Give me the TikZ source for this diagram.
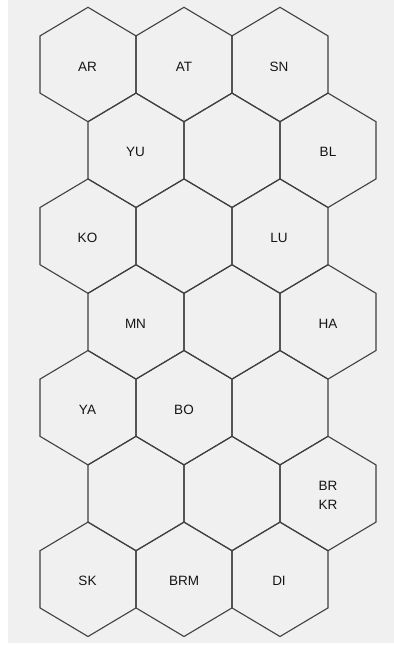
\documentclass[tikz,border=0pt]{standalone}
\usepackage{fontspec}
\setmainfont{Liberation Sans}
\definecolor{panel}{HTML}{F0F0F0}
\definecolor{edge}{HTML}{404040}
\definecolor{ink}{HTML}{151515}
\begin{document}
\begin{tikzpicture}[x=1pt,y=-1pt,
  hexline/.style={draw=edge,line width=1.1pt,line join=miter},
  lbl/.style={text=ink,font=\fontsize{13.5}{19}\selectfont,align=center,inner sep=0pt},
  hexcell/.pic={\path[hexline] (0,-57.2)--(48,-28.6)--(48,28.6)--(0,57.2)--(-48,28.6)--(-48,-28.6)--cycle;}]
\useasboundingbox (0,0) rectangle (394,646);
\fill[white] (0,0) rectangle (394,646);
\fill[panel] (8,0) rectangle (394,643);
% hexagons: row centres y = 64.5 + 85.8*k
\foreach \x/\y in {88/64.5,184/64.5,280/64.5,
                   136/150.3,232/150.3,328/150.3,
                   88/236.1,184/236.1,280/236.1,
                   136/321.9,232/321.9,328/321.9,
                   88/407.7,184/407.7,280/407.7,
                   136/493.5,232/493.5,328/493.5,
                   88/579.3,184/579.3,280/579.3}
  \pic at (\x,\y) {hexcell};
% labels
\node[lbl] (ar) at (87.5,66.5) {AR};
\node[lbl] (at) at (184,66.5) {AT};
\node[lbl] (sn) at (279,66.5) {SN};
\node[lbl] (yu) at (135.5,152.3) {YU};
\node[lbl] (bl) at (328,152.3) {BL};
\node[lbl] (ko) at (87.5,238.1) {KO};
\node[lbl] (lu) at (279,238.1) {LU};
\node[lbl] (mn) at (135.5,323.9) {MN};
\node[lbl] (ha) at (328,323.9) {HA};
\node[lbl] (ya) at (87.5,409.7) {YA};
\node[lbl] (bo) at (184,409.7) {BO};
\node[lbl] (brkr) at (328,495.5) {BR\\KR};
\node[lbl] (sk) at (87.5,581.3) {SK};
\node[lbl] (brm) at (184,581.3) {BRM};
\node[lbl] (di) at (279,581.3) {DI};
\end{tikzpicture}
\end{document}
